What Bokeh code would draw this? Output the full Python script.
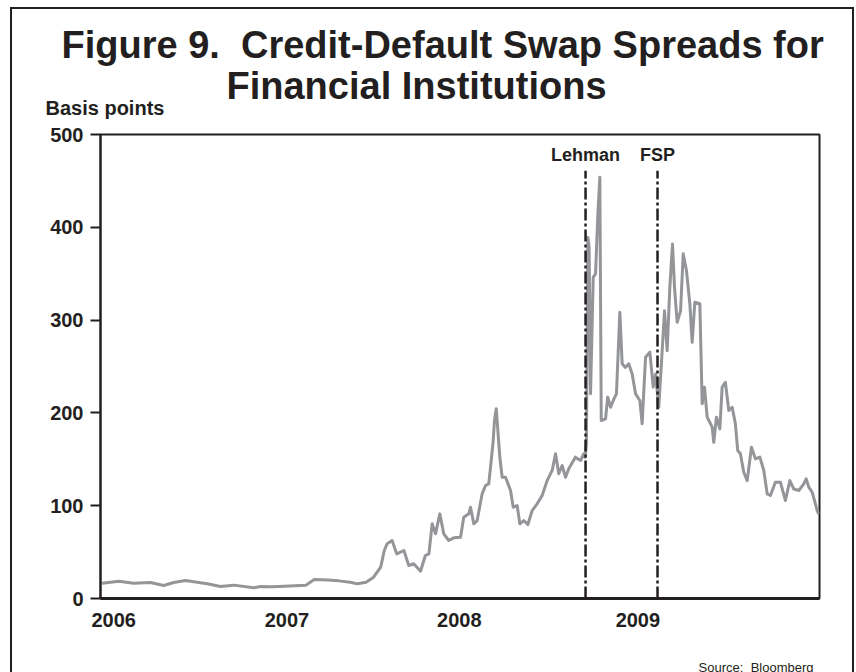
from bokeh.plotting import figure
from bokeh.models import Range1d, FixedTicker
from bokeh.layouts import column
from bokeh.embed import file_html
from bokeh.resources import INLINE
from bokeh.core.properties import value

# ---- data ----
t_year = [
    2006.000, 2006.094, 2006.177, 2006.271, 2006.345, 2006.401, 2006.467, 2006.532,
    2006.589, 2006.663, 2006.737, 2006.849, 2006.887, 2006.950, 2007.020, 2007.142,
    2007.188, 2007.264, 2007.325, 2007.390, 2007.430, 2007.478, 2007.520, 2007.560,
    2007.580, 2007.596, 2007.624, 2007.650, 2007.690, 2007.717, 2007.745, 2007.783,
    2007.810, 2007.830, 2007.848, 2007.867, 2007.891, 2007.913, 2007.941, 2007.969,
    2008.007, 2008.025, 2008.053, 2008.063, 2008.081, 2008.100, 2008.128, 2008.147,
    2008.165, 2008.175, 2008.190, 2008.197, 2008.207, 2008.216, 2008.227, 2008.240,
    2008.259, 2008.287, 2008.302, 2008.324, 2008.339, 2008.361, 2008.384, 2008.408,
    2008.436, 2008.464, 2008.492, 2008.520, 2008.539, 2008.557, 2008.576, 2008.595,
    2008.613, 2008.650, 2008.679, 2008.697, 2008.705, 2008.712, 2008.720, 2008.727,
    2008.735, 2008.750, 2008.763, 2008.776, 2008.787, 2008.795, 2008.819, 2008.831,
    2008.847, 2008.862, 2008.880, 2008.899, 2008.912, 2008.930, 2008.949, 2008.968,
    2008.987, 2009.011, 2009.024, 2009.043, 2009.067, 2009.086, 2009.099, 2009.117,
    2009.136, 2009.149, 2009.164, 2009.179, 2009.194, 2009.205, 2009.220, 2009.239,
    2009.254, 2009.272, 2009.291, 2009.304, 2009.319, 2009.347, 2009.360, 2009.373,
    2009.388, 2009.416, 2009.425, 2009.440, 2009.459, 2009.472, 2009.490, 2009.509,
    2009.528, 2009.546, 2009.559, 2009.574, 2009.593, 2009.612, 2009.636, 2009.658,
    2009.683, 2009.705, 2009.724, 2009.742, 2009.770, 2009.798, 2009.826, 2009.851,
    2009.873, 2009.901, 2009.929, 2009.942, 2009.957, 2009.976, 2009.989, 2010.004,
    2010.013,
]
spread_bp = [
    16.5, 18.7, 16.5, 17.2, 14.0, 17.2, 19.4, 17.6,
    15.8, 12.9, 14.4, 11.5, 12.9, 12.6, 13.3, 14.4,
    20.5, 20.0, 19.0, 17.6, 15.8, 17.6, 23.0, 33.8,
    51.7, 59.0, 62.5, 48.0, 51.7, 35.6, 37.4, 29.4,
    46.3, 48.0, 80.5, 69.7, 91.2, 69.7, 62.5, 65.4,
    66.0, 87.6, 91.2, 98.4, 80.5, 84.0, 112.8, 121.8,
    123.6, 141.5, 170.0, 191.8, 204.4, 181.0, 152.3, 130.7,
    130.7, 116.4, 98.4, 100.2, 80.5, 84.0, 79.7, 94.8,
    102.0, 111.0, 127.0, 138.0, 156.0, 134.4, 143.3, 130.7,
    139.8, 152.3, 148.7, 156.0, 152.0, 166.7, 389.0, 378.6,
    220.6, 346.0, 350.0, 414.5, 454.0, 191.8, 193.6, 217.0,
    206.0, 213.4, 220.6, 308.5, 253.0, 249.0, 253.0, 242.0,
    220.6, 213.4, 188.3, 260.0, 265.4, 227.7, 242.0, 206.0,
    267.0, 310.0, 267.0, 335.5, 382.0, 335.5, 297.7, 310.0,
    371.4, 353.4, 317.6, 276.0, 319.3, 317.6, 209.8, 227.7,
    195.4, 184.7, 168.4, 195.4, 182.8, 227.7, 233.0, 202.6,
    206.0, 188.3, 159.5, 156.0, 136.0, 127.0, 163.0, 150.5,
    152.3, 138.0, 112.8, 111.0, 125.3, 125.3, 105.6, 127.0,
    118.0, 116.4, 123.6, 129.0, 120.0, 114.5, 105.6, 94.8,
    91.0,
]
event_names = ["Lehman", "FSP"]
event_t = [2008.707, 2009.110]
event_top_bp = 461
event_label_bp = 478
year_tick_t = [2006.065, 2007.035, 2008.0, 2009.0]
year_tick_labels = ["2006", "2007", "2008", "2009"]
y_ticks = [0, 100, 200, 300, 400, 500]

title_lines = ["Figure 9.\u00a0 Credit-Default Swap Spreads for", "Financial Institutions"]
y_unit_label = "Basis points"
source_note = "Source:\u00a0 Bloomberg"

INK = "#231f20"
LINE = "#939598"
FONT = "Liberation Sans"
EW = 844  # element width (outer frame)
SIDE = {"border-left": "2px solid #231f20", "border-right": "2px solid #231f20"}


def text_panel(height, y_top, top_border=False):
    """A bare figure whose frame fills its canvas, in page-pixel units."""
    st = dict(SIDE)
    if top_border:
        st["border-top"] = "2px solid #231f20"
    canvas_top = y_top + (2 if top_border else 0)
    f = figure(width=EW, height=height,
               x_range=Range1d(12, 12 + EW),
               y_range=Range1d(canvas_top + height, canvas_top),
               x_axis_location=None, y_axis_location=None,
               title_location=None, frame_align=False,
               output_backend="svg", toolbar_location=None,
               min_border=0, min_border_left=0, min_border_right=0,
               min_border_top=0, min_border_bottom=0,
               background_fill_color="white", border_fill_color="white",
               outline_line_color=None, styles=st)
    f.grid.visible = False
    return f


# ---- top panel: title and unit label ----
top = text_panel(118, 7, top_border=True)
top.text(x=[61, 226], y=[44, 85], text=title_lines,
         text_font=value(FONT), text_font_style="bold", text_font_size="38px",
         text_color=INK, text_align="left", text_baseline="alphabetic")
top.text(x=[45], y=[107], text=[y_unit_label],
         text_font=value(FONT), text_font_style="bold", text_font_size="20px",
         text_color=INK, text_align="left", text_baseline="alphabetic")

# ---- main chart ----
p = figure(
    width=EW, height=515,
    x_range=Range1d(2005.991, 2010.017), y_range=Range1d(0, 500),
    output_backend="svg", toolbar_location=None, title_location=None,
    frame_align=False,
    min_border_left=88, min_border_right=37, min_border_top=9, min_border_bottom=42,
    background_fill_color="white", border_fill_color="white",
    styles=dict(SIDE),
)
p.grid.visible = False
p.outline_line_color = INK
p.outline_line_width = 2

p.line(t_year, spread_bp, line_color=LINE, line_width=3, line_join="round")

p.segment(x0=event_t, y0=[0] * len(event_t), x1=event_t, y1=[event_top_bp] * len(event_t),
          line_color=INK, line_width=2.5, line_dash="12 3 3 3")
p.text(x=event_t, y=[event_label_bp] * len(event_t), text=event_names,
       text_font=value(FONT), text_font_style="bold", text_font_size="18px",
       text_color=INK, text_align="center", text_baseline="alphabetic")

yax = p.yaxis[0]
yax.ticker = FixedTicker(ticks=y_ticks)
yax.axis_line_width = 2
yax.axis_line_color = INK
yax.major_tick_line_color = INK
yax.major_tick_line_width = 2
yax.major_tick_out = 10
yax.major_tick_in = 0
yax.minor_tick_out = 0
yax.minor_tick_in = 0
yax.major_label_standoff = 7
yax.major_label_text_font = FONT
yax.major_label_text_font_style = "bold"
yax.major_label_text_font_size = "20px"
yax.major_label_text_color = INK

xax = p.xaxis[0]
xax.ticker = FixedTicker(ticks=year_tick_t)
xax.major_label_overrides = {t: s for t, s in zip(year_tick_t, year_tick_labels)}
xax.axis_line_width = 3
xax.axis_line_color = INK
xax.major_tick_out = 0
xax.major_tick_in = 0
xax.minor_tick_out = 0
xax.minor_tick_in = 0
xax.major_label_standoff = 14
xax.major_label_text_font = FONT
xax.major_label_text_font_style = "bold"
xax.major_label_text_font_size = "20px"
xax.major_label_text_color = INK

# ---- bottom panel: source note ----
bottom = text_panel(32, 640)
bottom.text(x=[813], y=[667], text=[source_note],
            text_font=value(FONT), text_font_size="13px",
            text_color=INK, text_align="right", text_baseline="alphabetic")

layout = column(top, p, bottom, spacing=0, margin=(7, 0, 0, 10))
open("out.html", "w").write(file_html(layout, INLINE))
